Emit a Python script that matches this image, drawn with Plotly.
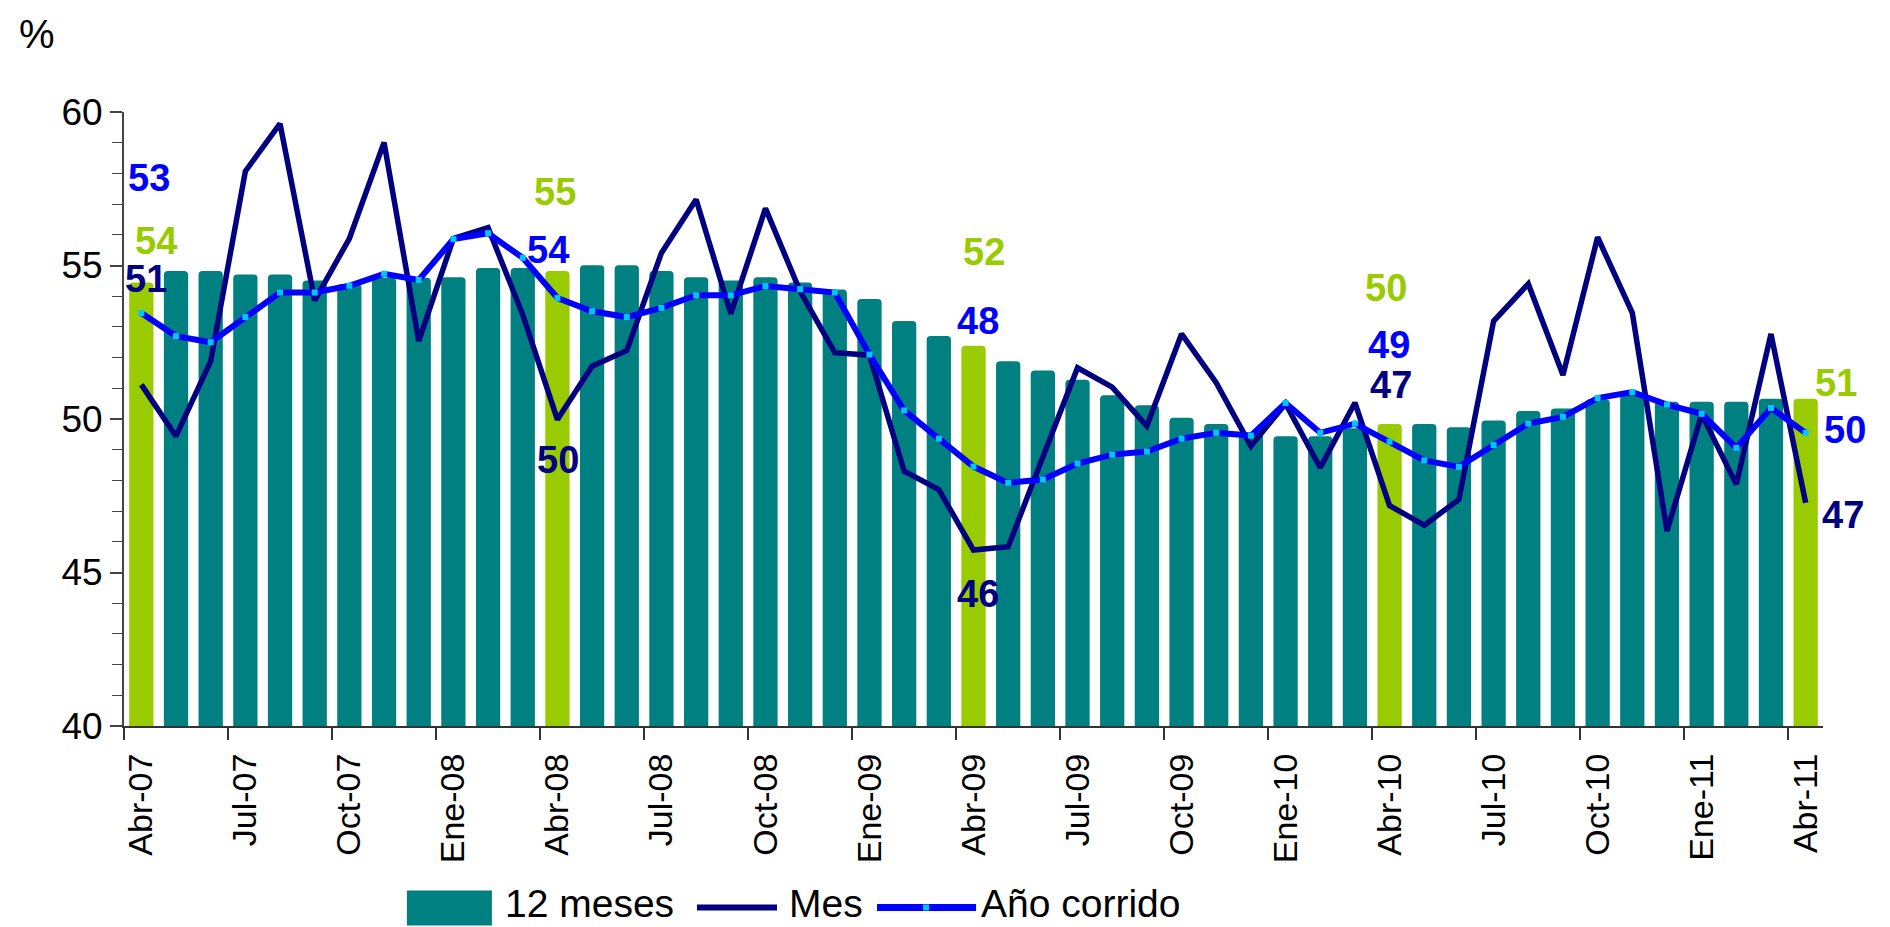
import plotly.graph_objects as go

# ---------------- data ----------------
meses_es = ["Ene", "Feb", "Mar", "Abr", "May", "Jun", "Jul", "Ago", "Sep", "Oct", "Nov", "Dic"]
fechas = []
for k in range(49):
    m = (3 + k) % 12
    y = 7 + (3 + k) // 12
    fechas.append(f"{meses_es[m]}-{y:02d}")

doce_meses = [54.45, 54.82, 54.82, 54.71, 54.71, 54.51, 54.40, 54.60, 54.60, 54.62, 54.92, 54.92,
              54.82, 55.01, 55.01, 54.82, 54.62, 54.51, 54.62, 54.45, 54.22, 53.91, 53.19, 52.70,
              52.39, 51.88, 51.58, 51.28, 50.77, 50.45, 50.04, 49.84, 49.55, 49.44, 49.44, 49.70,
              49.84, 49.84, 49.73, 49.95, 50.26, 50.34, 50.64, 50.80, 50.56, 50.56, 50.56, 50.66, 50.66]

mes = [51.12, 49.44, 51.88, 58.07, 59.62, 53.86, 55.88, 59.01, 52.54, 55.88, 56.23, 53.40,
       49.98, 51.72, 52.23, 55.41, 57.15, 53.43, 56.86, 54.16, 52.16, 52.08, 48.30, 47.70,
       45.73, 45.84, 48.76, 51.67, 51.04, 49.77, 52.77, 51.18, 49.12, 50.50, 48.41, 50.53,
       47.18, 46.54, 47.38, 53.19, 54.40, 51.43, 55.92, 53.46, 46.35, 50.15, 47.87, 52.77, 47.27]

ano_corrido = [53.45, 52.70, 52.50, 53.32, 54.12, 54.12, 54.34, 54.73, 54.53, 55.86, 56.05, 55.25,
               53.94, 53.51, 53.32, 53.62, 54.03, 54.03, 54.33, 54.23, 54.12, 52.10, 50.28, 49.36,
               48.45, 47.92, 48.03, 48.55, 48.84, 48.94, 49.36, 49.55, 49.46, 50.52, 49.55, 49.85,
               49.26, 48.65, 48.44, 49.15, 49.85, 50.07, 50.68, 50.88, 50.47, 50.17, 49.06, 50.36, 49.55]

tick_labels = fechas[::3]

# ---------------- style ----------------
TEAL = "#008080"
LIME = "#99CC00"
NAVY = "#000080"
BLUE = "#0000FF"
CYAN = "#00C8FF"
FONT = "Arial, Liberation Sans, sans-serif"
NARROW = "Liberation Sans Narrow, Arial Narrow, Arial, sans-serif"

W, H = 1890, 927
PL, PR, PT, PB = 124.2, 1822.7, 112.3, 726.5


def pxx(px):
    return (px - PL) / (PR - PL)


def pxy(py):
    return (PB - py) / (PB - PT)


x = list(range(len(fechas)))
bar_colors = [LIME if f.startswith("Abr") else TEAL for f in fechas]

fig = go.Figure()
fig.add_trace(go.Bar(x=x, y=doce_meses, name="12 meses", width=0.7,
                     marker=dict(color=bar_colors, line=dict(width=0), cornerradius=4)))
fig.add_trace(go.Scatter(x=x, y=mes, name="Mes", mode="lines",
                         line=dict(color=NAVY, width=5.5)))
fig.add_trace(go.Scatter(x=x, y=ano_corrido, name="Año corrido", mode="lines+markers",
                         line=dict(color=BLUE, width=6),
                         marker=dict(symbol="square", size=6, color=CYAN)))

# data labels (series, index, xshift, yshift)
series = {"bar": (doce_meses, LIME), "mes": (mes, NAVY), "ano": (ano_corrido, BLUE)}
label_specs = [
    ("ano", 0, 8, 135), ("bar", 0, 15, 41), ("mes", 0, 5, 106),
    ("bar", 12, -2, 79), ("ano", 12, -9, 48), ("mes", 12, 1, -40),
    ("bar", 24, 10, 94), ("ano", 24, 4, 146), ("mes", 24, 4, -44),
    ("bar", 36, -4, 136), ("ano", 36, -1, 97), ("mes", 36, 1, 121),
    ("bar", 48, 30, 16), ("ano", 48, 39, 3), ("mes", 48, 37, -12),
]
annotations = []
for s, i, dx, dy in label_specs:
    vals, col = series[s]
    annotations.append(dict(x=i, y=vals[i], xref="x", yref="y", text=str(int(round(vals[i]))),
                            showarrow=False, xshift=dx, yshift=dy, borderpad=0,
                            font=dict(family=FONT, size=38, color=col, weight=700)))

# "%" label
annotations.append(dict(x=pxx(37), y=pxy(34), xref="paper", yref="paper", text="%",
                        xanchor="center", yanchor="middle",
                        showarrow=False, font=dict(family=FONT, size=40, color="black")))

# custom legend
LEG_Y = 904
shapes = [
    dict(type="rect", xref="paper", yref="paper", x0=pxx(407), x1=pxx(492),
         y0=pxy(926), y1=pxy(891), fillcolor=TEAL, line=dict(width=0)),
    dict(type="line", xref="paper", yref="paper", x0=pxx(697), x1=pxx(777),
         y0=pxy(908), y1=pxy(908), line=dict(color=NAVY, width=6)),
    dict(type="line", xref="paper", yref="paper", x0=pxx(877), x1=pxx(976),
         y0=pxy(908), y1=pxy(908), line=dict(color=BLUE, width=7)),
    dict(type="rect", xref="paper", yref="paper", x0=pxx(923), x1=pxx(929),
         y0=pxy(911), y1=pxy(905), fillcolor=CYAN, line=dict(width=0)),
]
for txt, px in [("12 meses", 504), ("Mes", 788), ("Año corrido", 980)]:
    annotations.append(dict(x=pxx(px), y=pxy(LEG_Y), xref="paper", yref="paper", text=txt,
                            xanchor="left", yanchor="middle", showarrow=False, borderpad=0,
                            font=dict(family=FONT, size=39, color="black")))

fig.update_layout(
    width=W, height=H,
    margin=dict(l=PL, r=W - PR, t=PT, b=H - PB, pad=0),
    paper_bgcolor="white", plot_bgcolor="white",
    showlegend=False, bargap=0.3,
    annotations=annotations, shapes=shapes,
    font=dict(family=FONT, color="black"),
)
fig.update_xaxes(
    range=[-0.5, 48.5], tickmode="array", tickvals=x[::3], ticktext=tick_labels,
    tickangle=-90, ticks="", tickfont=dict(size=34, family=NARROW), ticklabelstandoff=12,
    showline=True, linecolor="#333333", linewidth=2, showgrid=False, zeroline=False,
    minor=dict(tick0=-0.5, dtick=3, ticks="outside", ticklen=12, tickcolor="#333333", tickwidth=1.5),
)
fig.update_yaxes(
    range=[40, 60], tickmode="array", tickvals=[40, 45, 50, 55, 60],
    ticks="outside", ticklen=12, tickcolor="#444444", tickwidth=1.5,
    tickfont=dict(size=37, family=FONT),
    showline=True, linecolor="#444444", linewidth=2, showgrid=False, zeroline=False,
    minor=dict(dtick=1, ticks="outside", ticklen=10, tickcolor="#444444", tickwidth=1),
)

fig.write_html("out.html", config={"displayModeBar": False},
               post_script="document.body.style.margin='0';")
